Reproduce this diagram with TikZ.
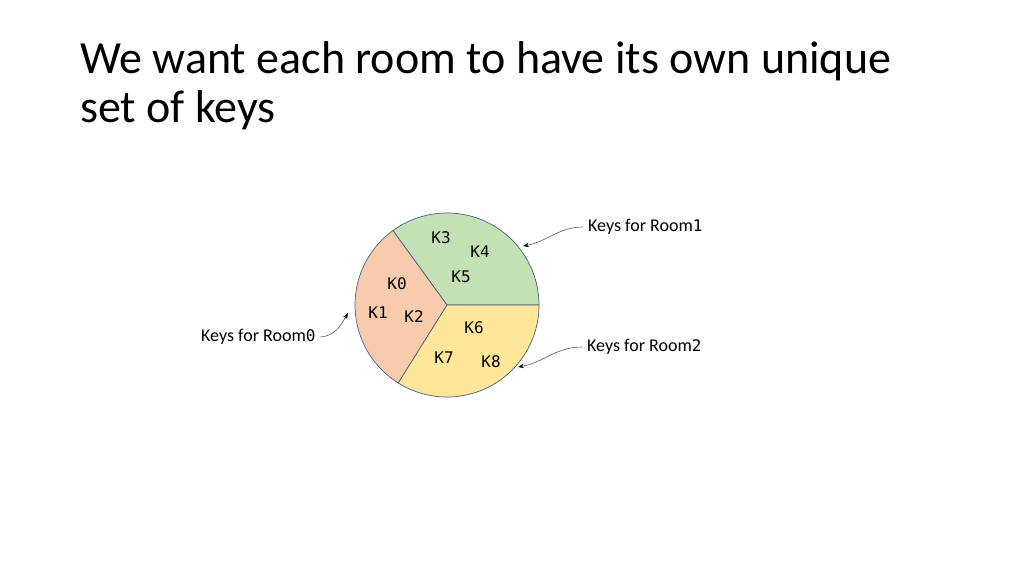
\documentclass[tikz,border=0pt]{standalone}
\usepackage{fontspec}
\setmainfont{Carlito}
\newfontfamily\keyfont{DejaVu Sans Mono}
\usetikzlibrary{arrows.meta, positioning}
\definecolor{roomgreen}{HTML}{C5E0B4}
\definecolor{roomorange}{HTML}{F8CBAD}
\definecolor{roomyellow}{HTML}{FFE699}
\definecolor{sliceline}{HTML}{4A6080}

\begin{document}
\begin{tikzpicture}[x=1pt, y=-1pt,
    slice/.style={draw=sliceline, line width=0.7pt},
    keylbl/.style={font=\keyfont\fontsize{16}{16}\selectfont, inner sep=0pt},
    roomlbl/.style={font=\fontsize{18}{18}\selectfont, inner sep=0pt, inner xsep=5pt},
    pointer/.style={draw=gray!70!black, line width=0.6pt, -{Stealth[length=6pt, width=4.5pt, black]}},
    ]
    \fill[white] (0,0) rectangle (1024,576);
    \useasboundingbox (0,0) rectangle (1024,576);

    % title
    \node[anchor=base west, align=left, inner sep=0pt,
          font=\fontsize{46}{49}\selectfont] (title) at (80,122)
        {We want each room to have its own unique\\set of keys};

    % pie with one slice per room
    \coordinate (c) at (447,305);
    \draw[slice, fill=roomgreen] (c) -- ++(0:92) arc[start angle=0, end angle=-126, radius=92] -- cycle;
    \draw[slice, fill=roomorange] (c) -- ++(-126:92) arc[start angle=-126, end angle=-238, radius=92] -- cycle;
    \draw[slice, fill=roomyellow] (c) -- ++(-238:92) arc[start angle=-238, end angle=-360, radius=92] -- cycle;

    % keys
    \node[keylbl] (k0) at (397,284) {K0};
    \node[keylbl] (k1) at (378,313) {K1};
    \node[keylbl] (k2) at (414,317) {K2};
    \node[keylbl] (k3) at (441,238) {K3};
    \node[keylbl] (k4) at (480,252) {K4};
    \node[keylbl] (k5) at (461,277) {K5};
    \node[keylbl] (k6) at (474,328) {K6};
    \node[keylbl] (k7) at (444,358) {K7};
    \node[keylbl] (k8) at (491,362) {K8};

    % labels and pointers
    \node[roomlbl, anchor=west] (room0) at (196,337) {Keys for Room{\keyfont\fontsize{16}{16}\selectfont 0}};
    \node[roomlbl, anchor=west] (room1) at (583,227) {Keys for Room{\keyfont\fontsize{16}{16}\selectfont 1}};
    \node[roomlbl, anchor=west] (room2) at (582,347) {Keys for Room{\keyfont\fontsize{16}{16}\selectfont 2}};

    \coordinate (tip0) at (348,313);
    \coordinate (tip1) at (523,246);
    \coordinate (tip2) at (518,367);

    \draw[pointer] (room0.east) to[out=5, in=240] (tip0);
    \draw[pointer] (room1.west) to[out=180, in=10] (tip1);
    \draw[pointer] (room2.west) to[out=180, in=10] (tip2);
\end{tikzpicture}
\end{document}
